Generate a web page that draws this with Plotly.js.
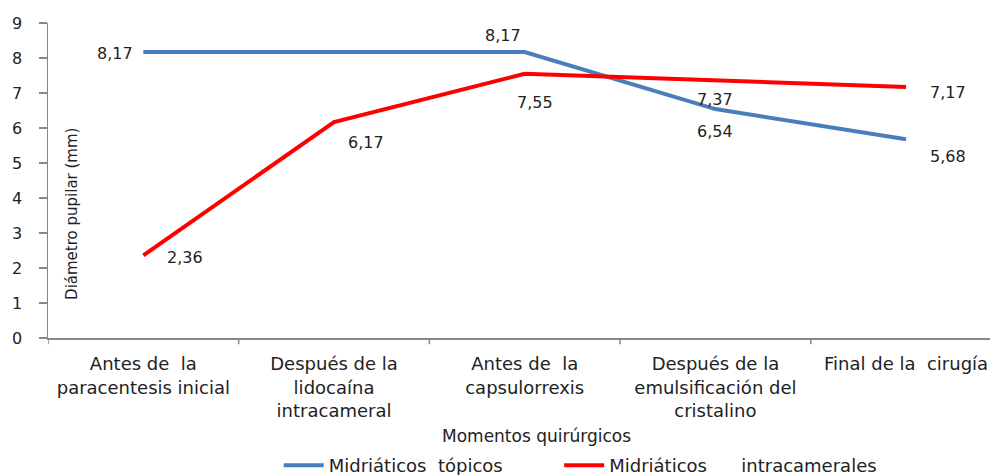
<!DOCTYPE html>
<html><head><meta charset="utf-8">
<script src="https://cdn.plot.ly/plotly-3.0.1.min.js"></script>
<style>body{margin:0;background:#fff}#c{width:990px;height:475px}</style>
</head><body><div id="c"></div>
<script>
const categories = [
  "Antes de  la<br>paracentesis inicial",
  "Después de la<br>lidocaína<br>intracameral",
  "Antes de  la<br>capsulorrexis",
  "Después de la<br>emulsificación del<br>cristalino",
  "Final de la  cirugía"
];
const topicos = [8.17, 8.17, 8.17, 6.54, 5.68];
const intracamerales = [2.36, 6.17, 7.55, 7.37, 7.17];
const NB = "\u00a0";
const seriesNames = ["Midriáticos " + NB + "tópicos" + NB.repeat(9), "Midriáticos " + NB.repeat(5) + "intracamerales"];
const yTicks = [0,1,2,3,4,5,6,7,8,9];

const fmt = v => v.toFixed(2).replace('.', ',');
const FAM = "DejaVu Sans, Verdana, sans-serif";
const labelFont = {family: FAM, size: 16, color: "#222"};

// label offsets (px) per point; null = no label
const blueOff = [[-28, -1], null, [-22, 17], [0, -22], [42, -17]];
const redOff = [[42, -2], [32, -20], [10, -29], [0, -19], [42, -5]];

const annotations = [];
function addLabels(vals, offs) {
  vals.forEach((v, i) => {
    if (!offs[i]) return;
    annotations.push({
      x: i, y: v, xref: "x", yref: "y", text: fmt(v), showarrow: false,
      xshift: offs[i][0], yshift: offs[i][1], font: labelFont
    });
  });
}
addLabels(topicos, blueOff);
addLabels(intracamerales, redOff);
annotations.push({
  xref: "paper", yref: "paper", x: 0.0255, y: 0.394, xanchor: "center", yanchor: "middle",
  text: "Diámetro pupilar (mm)", textangle: -90, showarrow: false,
  font: {family: FAM, size: 15, color: "#222"}
});
annotations.push({
  xref: "paper", yref: "paper", x: 0.519, y: -0.311, xanchor: "center", yanchor: "middle",
  text: "Momentos quirúrgicos", showarrow: false,
  font: {family: FAM, size: 17, color: "#222"}
});

const xIdx = categories.map((_, i) => i);
const data = [
  {x: xIdx, y: topicos, type: "scatter", mode: "lines", name: seriesNames[0],
   line: {color: "#4A7EBB", width: 4}},
  {x: xIdx, y: intracamerales, type: "scatter", mode: "lines", name: seriesNames[1],
   line: {color: "#FF0000", width: 4}}
];

const catFont = {family: FAM, size: 18, color: "#222"};
const layout = {
  width: 990, height: 475,
  margin: {l: 48, r: 0, t: 23, b: 137, autoexpand: false},
  paper_bgcolor: "#fff", plot_bgcolor: "#fff",
  showlegend: true,
  legend: {orientation: "h", x: 0.565, xanchor: "center", y: -0.405, yanchor: "middle",
    font: {family: FAM, size: 18, color: "#222"}, itemwidth: 40, tracegroupgap: 0},
  xaxis: {
    range: [-0.5, 4.44], tickmode: "array", tickvals: xIdx, ticktext: categories,
    tickangle: 0, showgrid: false, zeroline: false, automargin: false,
    showline: true, linecolor: "#888", linewidth: 1.5,
    ticks: "", tickfont: catFont, ticklabelstandoff: 9
  },
  yaxis: {
    range: [0, 9], tickvals: yTicks, showgrid: false, zeroline: false, automargin: false,
    showline: true, linecolor: "#888", linewidth: 1.5,
    ticks: "outside", ticklen: 8, tickcolor: "#888", tickwidth: 1.5,
    ticklabelstandoff: 13,
    tickfont: {family: FAM, size: 16, color: "#222"}
  },
  shapes: [-0.5, 0.5, 1.5, 2.5, 3.5].map(b => ({
    type: "line", xref: "x", yref: "paper", x0: b, x1: b, y0: 0, y1: -0.02,
    line: {color: "#888", width: 1.5}
  })),
  annotations: annotations
};
Plotly.newPlot("c", data, layout, {displayModeBar: false, staticPlot: true});
</script>
</body></html>
